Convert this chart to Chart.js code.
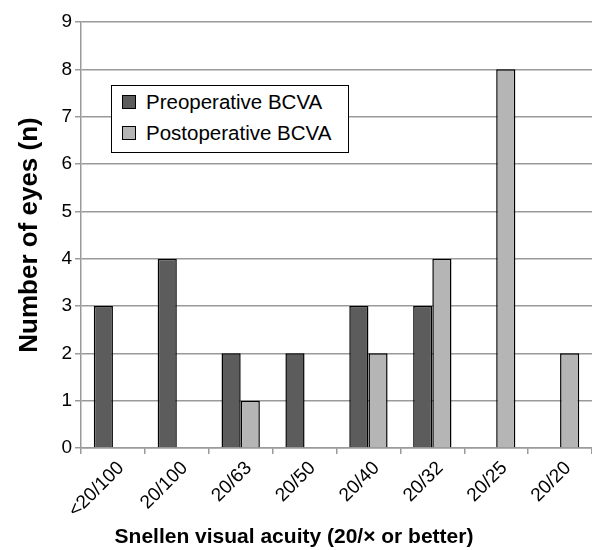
<!DOCTYPE html>
<html>
<head>
<meta charset="utf-8">
<script src="https://cdn.jsdelivr.net/npm/chart.js@4"></script>
<style>
  body { margin: 0; background: #fff; }
  #wrap { position: relative; width: 592px; height: 550px; }
  #legend {
    position: absolute; left: 111px; top: 85px; width: 236px; height: 66px;
    border: 1px solid #000; background: #fff;
    font-family: "Liberation Sans", Arial, sans-serif; font-size: 20.5px; color: #000;
  }
  #legend .row { position: absolute; left: 10px; height: 24px; line-height: 24px; display: flex; align-items: center; white-space: nowrap; }
  #legend .sw { width: 12px; height: 12px; border: 1px solid #000; margin-right: 10px; }
  #xtitle {
    position: absolute; left: 0; top: 524px; width: 588px; text-align: center;
    font-family: "Liberation Sans", Arial, sans-serif; font-size: 21px; font-weight: bold; line-height: 24px; color: #000;
  }
</style>
</head>
<body>
<div id="wrap">
  <canvas id="chart" width="592" height="550"></canvas>
  <div id="legend"></div>
  <div id="xtitle"></div>
</div>
<script>
const $ = (id) => document.getElementById(id);

const categories = ["<20/100", "20/100", "20/63", "20/50", "20/40", "20/32", "20/25", "20/20"];
const preop = [3, 4, 2, 2, 3, 3, 0, 0];
const postop = [0, 0, 1, 0, 2, 4, 8, 2];
const seriesNames = ["Preoperative BCVA", "Postoperative BCVA"];
const seriesColors = ["#5c5c5c", "#b5b5b5"];
const xTitle = "Snellen visual acuity (20/\u00d7 or better)";
const yTitle = "Number of eyes (n)";

const font = "'Liberation Sans', Arial, sans-serif";

$("legend").innerHTML = seriesNames
  .map((n, i) => `<div class="row" style="top:${i === 0 ? 4 : 35}px"><div class="sw" style="background:${seriesColors[i]}"></div>${n}</div>`)
  .join("");
$("xtitle").textContent = xTitle;

new Chart($("chart").getContext("2d"), {
  type: "bar",
  data: {
    labels: categories,
    datasets: [
      { label: seriesNames[0], data: preop, backgroundColor: seriesColors[0], borderColor: "#000", borderWidth: 1.5 },
      { label: seriesNames[1], data: postop, backgroundColor: seriesColors[1], borderColor: "#000", borderWidth: 1.5 },
    ],
  },
  options: {
    responsive: false,
    animation: false,
    layout: { padding: { top: 22, left: 14, right: 0, bottom: 0 } },
    datasets: { bar: { categoryPercentage: 0.6, barPercentage: 1 } },
    plugins: { legend: { display: false }, tooltip: { enabled: false } },
    scales: {
      x: {
        grid: { drawOnChartArea: false, color: "#9a9a9a", tickLength: 6, lineWidth: 1.5 },
        border: { color: "#9a9a9a", width: 1.5 },
        ticks: { color: "#000", font: { family: font, size: 19 }, maxRotation: 45, minRotation: 45, labelOffset: 8 },
        afterFit: (s) => { s.height = 102; },
      },
      y: {
        min: 0, max: 9,
        grid: { color: "#9a9a9a", tickLength: 6, lineWidth: 1.5 },
        border: { color: "#9a9a9a", width: 1.5 },
        ticks: { stepSize: 1, color: "#000", font: { family: font, size: 19 }, padding: 3 },
        title: { display: true, text: yTitle, color: "#000", font: { family: font, size: 26, weight: "bold" }, padding: { top: 0, bottom: 4 } },
        afterFit: (s) => { s.width = 67; },
      },
    },
  },
});
</script>
</body>
</html>
